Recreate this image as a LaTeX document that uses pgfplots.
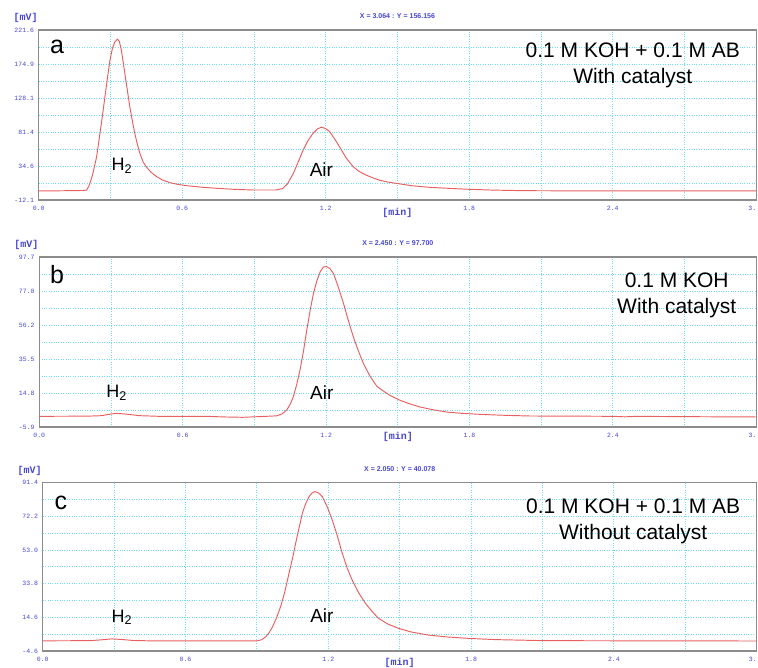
\documentclass[border=0pt]{standalone}
\usepackage{pgfplots}
\pgfplotsset{compat=1.18}
\usepackage{fontspec}
\setmainfont{Liberation Sans}
\newfontfamily\monofont{Liberation Mono}
\definecolor{gcgrid}{RGB}{110,225,240}
\definecolor{gcblue}{RGB}{70,70,210}
\definecolor{gcred}{RGB}{232,95,95}
\definecolor{gcbox}{RGB}{140,140,140}

\pgfplotsset{gc/.style={
  scale only axis, anchor=south west,
  xmin=0, xmax=3,
  xtick={0,0.6,1.2,1.8,2.4,3.0},
  xticklabels={0.0,0.6,1.2,1.8,2.4,\makebox[0pt][r]{3.}},
  minor xtick={0.3,0.9,1.5,2.1,2.7},
  grid=both,
  major grid style={gcgrid, dotted, line width=0.9pt},
  minor grid style={gcgrid, dotted, line width=0.9pt},
  major tick length=0pt, minor tick length=0pt,
  axis line style={gcbox, line width=1.2pt},
  tick label style={font=\monofont\fontsize{6.5}{7}\selectfont, text=gcblue, inner sep=0pt},
  xticklabel style={yshift=-5.5pt},
  yticklabel style={xshift=-4.5pt},
  clip=false,
}}
\tikzset{curve/.style={draw=gcred, line width=0.95pt, mark=none}}
\newcommand{\mvlabel}{\node[font=\monofont\bfseries\fontsize{10}{11}\selectfont, text=gcblue, xshift=-13pt, yshift=12pt] at (rel axis cs:0,1) {[mV]};}
\newcommand{\toptitle}[1]{\node[font=\bfseries\fontsize{7}{8}\selectfont, text=gcblue, yshift=14pt] at (rel axis cs:0.5,1) {#1};}
\newcommand{\minlabel}[1]{\node[font=\monofont\bfseries\fontsize{10}{11}\selectfont, text=gcblue, yshift=#1] at (rel axis cs:0.5,0) {[min]};}

\begin{document}
\begin{tikzpicture}
\useasboundingbox (0,0) rectangle (758pt,668pt);

% ---------------- panel a
\begin{axis}[gc, at={(38.7pt,468pt)}, width=717.5pt, height=170pt,
  ymin=-12.1, ymax=221.6,
  ytick={-12.1,34.64,81.38,128.12,174.86,221.6},
  yticklabels={-12.1,34.6,81.4,128.1,174.9,221.6},
  minor ytick={11.27,58.01,104.75,151.49,198.23}]
\addplot[curve] coordinates {
(0.00,0.3) (0.10,0.6) (0.19,1.0) (0.200,1.5) (0.21,7) (0.225,22) (0.242,47)
(0.256,79) (0.267,105) (0.277,130) (0.288,157) (0.298,180) (0.308,196)
(0.318,205) (0.329,209) (0.337,206) (0.345,195) (0.353,178) (0.361,160)
(0.371,138) (0.381,116) (0.392,96) (0.402,79) (0.413,64) (0.423,52)
(0.437,40) (0.451,33) (0.47,26) (0.493,20) (0.52,15) (0.549,11.7)
(0.58,9.5) (0.618,7.6) (0.68,5.5) (0.743,4) (0.82,2.5) (0.9,1.6) (0.99,1.6)
(1.02,3.5) (1.04,10) (1.064,24) (1.085,40) (1.105,56) (1.125,69) (1.147,79.5)
(1.165,85.5) (1.182,88) (1.2,86) (1.217,81.8) (1.237,72) (1.258,61)
(1.285,46) (1.314,34) (1.34,27) (1.37,22) (1.4,18) (1.426,15) (1.46,12.5)
(1.495,10.8) (1.56,7.5) (1.635,5.3) (1.72,3.8) (1.8,2.6) (1.9,1.5)
(2.025,0.7) (2.2,0.5) (2.6,0.4) (3.0,0.3)};
\mvlabel
\toptitle{X = 3.064 : Y = 156.156}
\minlabel{-13pt}
\node[font=\fontsize{25}{28}\selectfont] at (rel axis cs:0.0255,0.90) {a};
\node[font=\fontsize{18}{20}\selectfont] at (rel axis cs:0.116,0.20) {H\textsubscript{2}};
\node[font=\fontsize{19}{20}\selectfont] at (rel axis cs:0.394,0.18) {Air};
\node[align=center, font=\fontsize{21}{26}\selectfont] at (rel axis cs:0.828,0.794) {0.1 M KOH + 0.1 M AB\\With catalyst};
\end{axis}

% ---------------- panel b
\begin{axis}[gc, at={(39.3pt,241pt)}, width=717pt, height=170pt,
  ymin=-5.9, ymax=97.7,
  ytick={-5.9,14.82,35.54,56.26,76.98,97.7},
  yticklabels={-5.9,14.8,35.5,56.2,77.0,97.7},
  minor ytick={4.46,25.18,45.9,66.62,87.34}]
\addplot[curve] coordinates {
(0.0,0.6) (0.2,0.7) (0.26,1.0) (0.3,2.0) (0.324,2.4) (0.36,2.0) (0.42,1.0)
(0.5,0.6) (0.7,0.6) (0.78,0.2) (0.85,0.0) (0.9,0.3) (0.95,0.6) (0.993,0.9)
(1.015,2) (1.035,4.4) (1.05,8) (1.063,12.6) (1.077,20) (1.091,28.9)
(1.105,40) (1.119,53) (1.133,65) (1.147,75.4) (1.161,83) (1.175,88.6)
(1.188,91.5) (1.2,92) (1.215,90.8) (1.231,87.6) (1.252,79) (1.273,69.3)
(1.293,59) (1.314,49) (1.335,40.5) (1.356,32.8) (1.384,25) (1.412,19)
(1.425,17.5) (1.465,13.5) (1.509,10.4) (1.55,8.2) (1.593,6.3) (1.65,4.5)
(1.705,3.2) (1.77,2.4) (1.844,1.8) (1.95,1.2) (2.053,0.8) (2.25,0.7)
(2.4,0.6) (2.45,0.3) (2.5,0.6) (2.7,0.4) (3.0,0.2)};
\mvlabel
\toptitle{X = 2.450 : Y = 97.700}
\minlabel{-9.5pt}
\node[font=\fontsize{25}{28}\selectfont] at (rel axis cs:0.0247,0.894) {b};
\node[font=\fontsize{18}{20}\selectfont] at (rel axis cs:0.108,0.20) {H\textsubscript{2}};
\node[font=\fontsize{19}{20}\selectfont] at (rel axis cs:0.394,0.20) {Air};
\node[align=center, font=\fontsize{21}{26}\selectfont] at (rel axis cs:0.889,0.774) {0.1 M KOH\\With catalyst};
\end{axis}

% ---------------- panel c
\begin{axis}[gc, at={(42.7pt,17pt)}, width=714pt, height=168.3pt,
  ymin=-4.6, ymax=91.4,
  ytick={-4.6,14.6,33.8,53.0,72.2,91.4},
  yticklabels={-4.6,14.6,33.8,53.0,72.2,91.4},
  minor ytick={5,24.2,43.4,62.6,81.8}]
\addplot[curve] coordinates {
(0.0,1.2) (0.2,1.3) (0.25,1.8) (0.289,2.3) (0.33,2.0) (0.38,1.4) (0.45,1.2)
(0.9,1.2) (0.92,1.8) (0.938,3.6) (0.952,6) (0.966,9.3) (0.983,14.5)
(1.0,20.8) (1.017,29) (1.035,39.8) (1.05,48.5) (1.063,56.9) (1.077,65.5)
(1.091,74) (1.105,79.5) (1.119,83.4) (1.132,85.6) (1.144,86.3) (1.16,85.5)
(1.175,83.4) (1.196,77.5) (1.217,70) (1.238,61) (1.259,51) (1.28,42.5)
(1.3,35.9) (1.328,28.5) (1.356,22.6) (1.385,17.8) (1.411,14) (1.45,10.8)
(1.495,8.3) (1.55,6.2) (1.62,4.5) (1.7,3.4) (1.788,2.6) (1.9,1.9)
(2.108,1.3) (2.5,1.2) (3.0,1.1)};
\mvlabel
\toptitle{X = 2.050 : Y = 40.078}
\minlabel{-11.5pt}
\node[font=\fontsize{25}{28}\selectfont] at (rel axis cs:0.0256,0.879) {c};
\node[font=\fontsize{18}{20}\selectfont] at (rel axis cs:0.111,0.20) {H\textsubscript{2}};
\node[font=\fontsize{19}{20}\selectfont] at (rel axis cs:0.391,0.21) {Air};
\node[align=center, font=\fontsize{21}{26}\selectfont] at (rel axis cs:0.827,0.769) {0.1 M KOH + 0.1 M AB\\Without catalyst};
\end{axis}
\end{tikzpicture}
\end{document}
